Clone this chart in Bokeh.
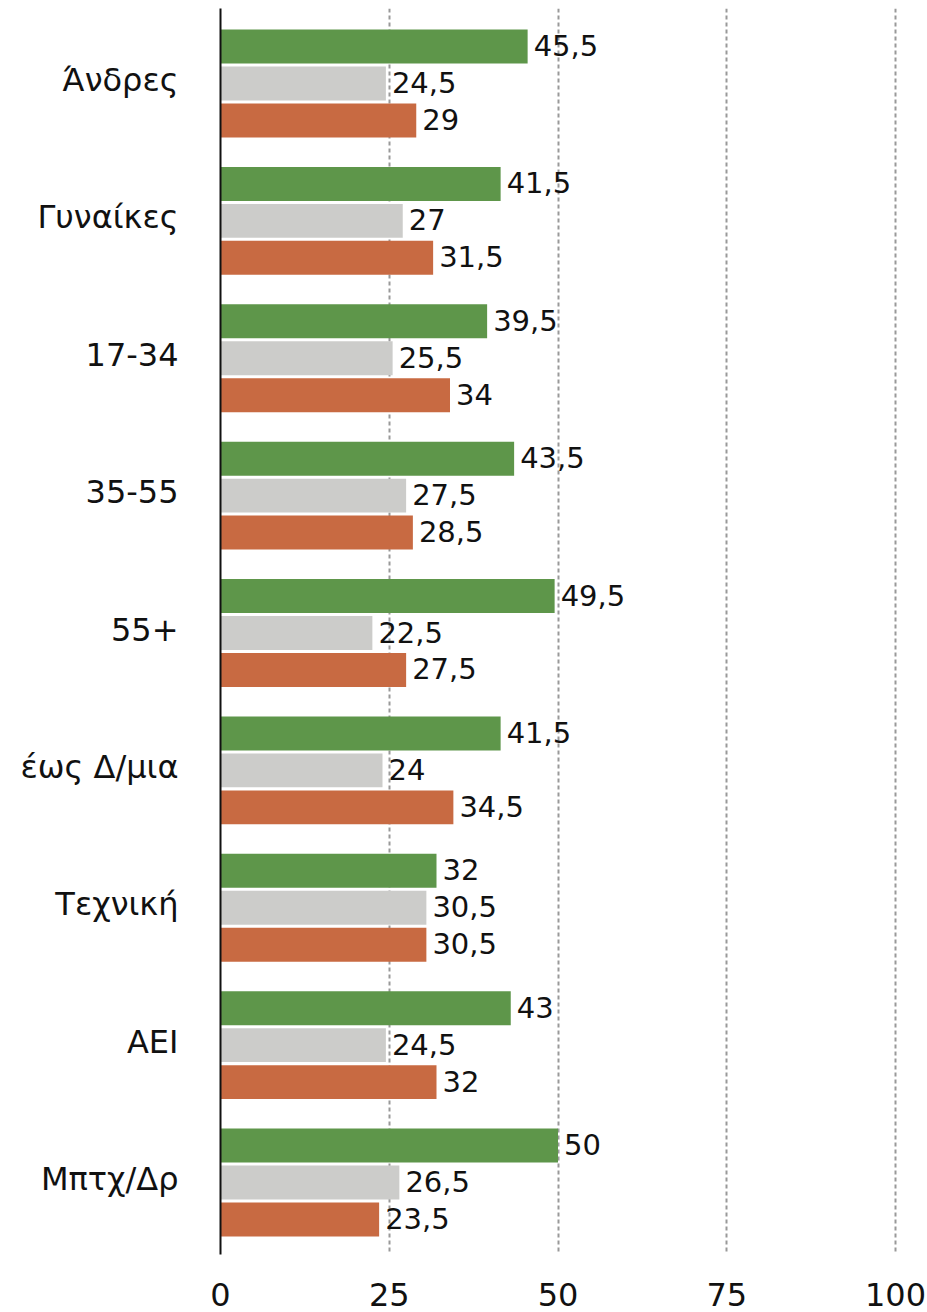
from bokeh.plotting import figure
from bokeh.models import ColumnDataSource, Range1d, FixedTicker, LabelSet
from bokeh.core.properties import value
from bokeh.embed import file_html
from bokeh.resources import INLINE

categories = ["Άνδρες", "Γυναίκες", "17-34", "35-55", "55+", "έως Δ/μια", "Τεχνική", "ΑΕΙ", "Μπτχ/Δρ"]
series_green = [45.5, 41.5, 39.5, 43.5, 49.5, 41.5, 32, 43, 50]
series_gray = [24.5, 27, 25.5, 27.5, 22.5, 24, 30.5, 24.5, 26.5]
series_orange = [29, 31.5, 34, 28.5, 27.5, 34.5, 30.5, 32, 23.5]
x_ticks = [0, 25, 50, 75, 100]

FONT = "DejaVu Sans"
colors = ["#5E964A", "#CCCCCA", "#C86A42"]
offsets = [-0.269, 0.0, 0.269]
bar_h = 0.247

p = figure(width=927, height=1312, output_backend="svg", toolbar_location=None,
           x_range=Range1d(0, 104.74), y_range=Range1d(8.524, -0.546),
           min_border_left=220, min_border_right=0, min_border_top=8, min_border_bottom=58)
p.outline_line_color = None
p.background_fill_color = "white"
p.border_fill_color = "white"

def fmt(v):
    s = ("%g" % v)
    return s.replace(".", ",")

for vals, col, off in zip([series_green, series_gray, series_orange], colors, offsets):
    ys = [i + off for i in range(len(categories))]
    src = ColumnDataSource(dict(y=ys, right=vals, lbl=[fmt(v) for v in vals]))
    p.hbar(y="y", left=0, right="right", height=bar_h, source=src, color=col, line_color=None)
    labels = LabelSet(x="right", y="y", text="lbl", source=src, x_offset=6, y_offset=1,
                      text_font=value(FONT), text_font_size="29px", text_color="#111111",
                      text_baseline="middle", text_align="left")
    p.add_layout(labels)

# x axis
p.xaxis.ticker = FixedTicker(ticks=x_ticks)
p.xaxis.axis_line_color = None
p.xaxis.major_tick_line_color = None
p.xaxis.minor_tick_line_color = None
p.xaxis.major_label_text_font = FONT
p.xaxis.major_label_text_font_size = "32px"
p.xaxis.major_label_text_color = "#111111"
p.xaxis.major_label_standoff = 22

# y axis
ytick_pos = [round(i - 0.025, 3) for i in range(len(categories))]
p.yaxis.ticker = FixedTicker(ticks=ytick_pos)
p.yaxis.major_label_overrides = {t: c for t, c in zip(ytick_pos, categories)}
p.yaxis.axis_line_color = "#111111"
p.yaxis.axis_line_width = 2
p.yaxis.major_tick_line_color = None
p.yaxis.minor_tick_line_color = None
p.yaxis.major_label_text_font = FONT
p.yaxis.major_label_text_font_size = "32px"
p.yaxis.major_label_text_color = "#111111"
p.yaxis.major_label_standoff = 36

p.ygrid.grid_line_color = None
p.xgrid.ticker = FixedTicker(ticks=[25, 50, 75, 100])
p.xgrid.grid_line_color = "#999999"
p.xgrid.grid_line_width = 2
p.xgrid.grid_line_dash = "4 3"

open("out.html", "w").write(file_html(p, INLINE))
